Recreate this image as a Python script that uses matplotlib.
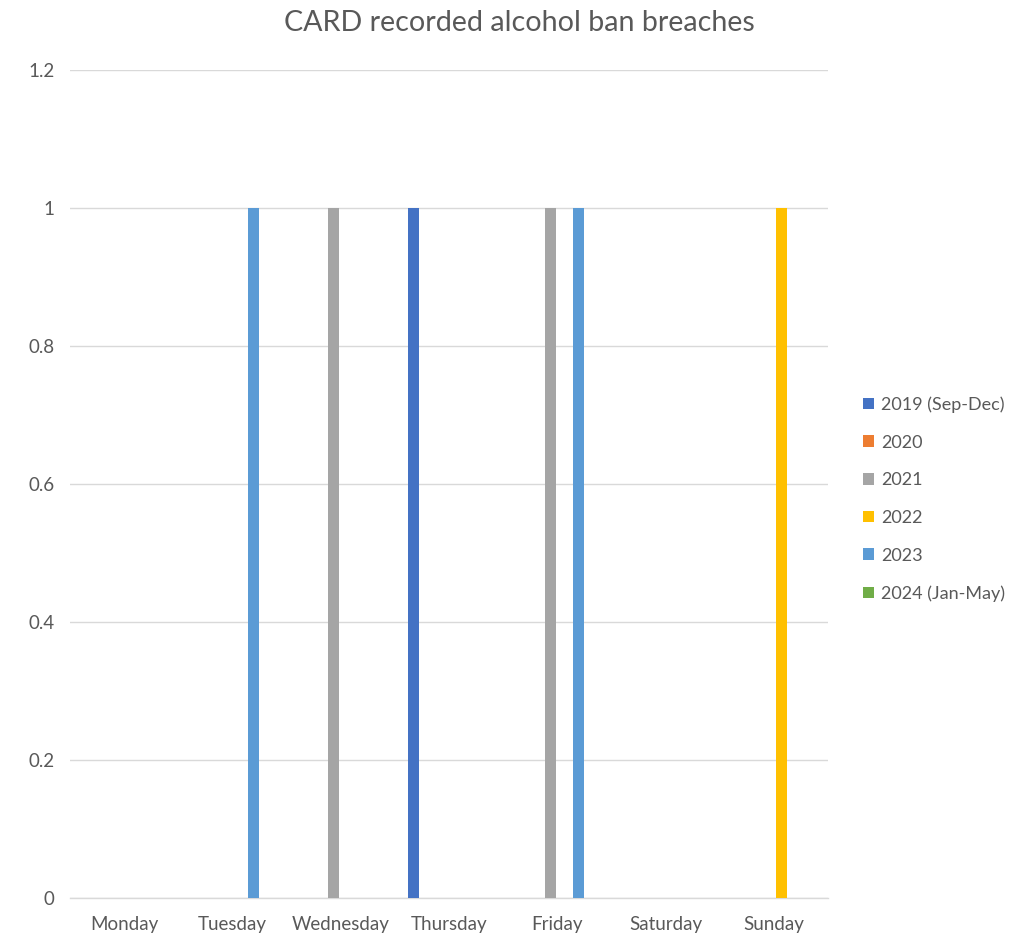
import matplotlib
matplotlib.use("Agg")
import matplotlib.pyplot as plt
import numpy as np

days = ["Monday", "Tuesday", "Wednesday", "Thursday", "Friday", "Saturday", "Sunday"]
series_names = ["2019 (Sep-Dec)", "2020", "2021", "2022", "2023", "2024 (Jan-May)"]
v2019 = [0, 0, 0, 1, 0, 0, 0]
v2020 = [0, 0, 0, 0, 0, 0, 0]
v2021 = [0, 0, 1, 0, 1, 0, 0]
v2022 = [0, 0, 0, 0, 0, 0, 1]
v2023 = [0, 1, 0, 0, 1, 0, 0]
v2024 = [0, 0, 0, 0, 0, 0, 0]
colors = ["#4472C4", "#ED7D31", "#A5A5A5", "#FFC000", "#5B9BD5", "#70AD47"]
yticks = [0, 0.2, 0.4, 0.6, 0.8, 1, 1.2]
ytick_labels = ["0", "0.2", "0.4", "0.6", "0.8", "1", "1.2"]

values = [v2019, v2020, v2021, v2022, v2023, v2024]

plt.rcParams['font.family'] = ['Lato', 'DejaVu Sans']
fig = plt.figure(figsize=(10.25, 9.38), dpi=100)
ax = fig.add_axes([0.068, 0.0426, 0.740, 0.883])

x = np.arange(len(days))
step = 0.132
width = 0.101
n = len(values)
for i, (name, vals, c) in enumerate(zip(series_names, values, colors)):
    ax.bar(x + (i - (n - 1) / 2) * step, vals, width=width, color=c, label=name, zorder=3)

ax.set_xlim(-0.5, len(days) - 0.5)
ax.set_ylim(0, 1.2)
ax.set_yticks(yticks)
ax.set_yticklabels(ytick_labels)
ax.set_xticks(x)
ax.set_xticklabels(days)
ax.grid(axis='y', color='#D9D9D9', linewidth=1, zorder=0)
for s in ["top", "right", "left"]:
    ax.spines[s].set_visible(False)
ax.spines["bottom"].set_color("#D9D9D9")
ax.spines["bottom"].set_linewidth(1)
ax.tick_params(axis='both', length=0, colors="#595959", labelsize=13.5)
ax.tick_params(axis='x', pad=13)
ax.tick_params(axis='y', pad=11)

fig.text(0.507, 0.975, "CARD recorded alcohol ban breaches", ha='center', va='center',
         fontsize=20.6, color="#595959")

fig.legend(loc='center left', bbox_to_anchor=(0.826, 0.468), frameon=False,
           fontsize=13, labelcolor="#595959", handlelength=0.6, handleheight=0.6,
           handletextpad=0.4, labelspacing=1.2)

fig.savefig("out.png", dpi=100)
